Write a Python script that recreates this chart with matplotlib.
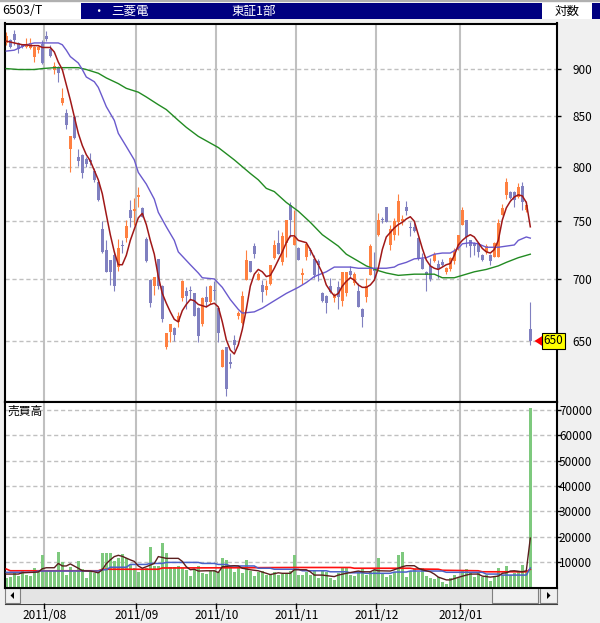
import matplotlib
matplotlib.use('Agg')
import matplotlib.pyplot as plt
import matplotlib.patches as mpatches
from matplotlib.ticker import FixedLocator, NullLocator
import numpy as np

plt.rcParams['font.family'] = ['Noto Sans CJK JP', 'DejaVu Sans']

# ---- daily candles, 2011/07/15 .. 2012/01/30 (6503 三菱電機) ----
opens = [928, 931, 938, 928, 926, 924, 922, 913, 920, 927, 936, 921, 898, 902, 864, 853, 818, 849, 810, 812,
         808, 807, 796, 786, 743, 725, 716, 720, 710, 729, 735, 760, 759, 772, 762, 734, 699, 694, 717, 694,
         645, 657, 660, 665, 684, 690, 691, 688, 676, 663, 685, 681, 691, 676, 630, 645, 634, 651, 670, 664,
         699, 715, 728, 699, 695, 691, 696, 718, 731, 714, 731, 765, 729, 726, 703, 719, 725, 717, 715, 688,
         686, 694, 684, 693, 682, 688, 707, 697, 690, 675, 685, 703, 709, 738, 752, 763, 729, 738, 749, 750,
         763, 745, 745, 735, 717, 706, 711, 715, 713, 714, 706, 708, 715, 727, 747, 751, 733, 731, 731, 720,
         723, 720, 719, 719, 756, 774, 777, 777, 772, 782, 760, 659]
highs = [940, 932, 942, 929, 927, 933, 933, 925, 925, 931, 941, 926, 907, 903, 879, 858, 830, 850, 818, 813,
         810, 814, 799, 788, 750, 733, 716, 724, 734, 733, 751, 769, 771, 781, 763, 736, 700, 702, 717, 695,
         656, 663, 661, 673, 699, 693, 694, 688, 677, 685, 694, 695, 698, 676, 644, 645, 641, 655, 674, 690,
         725, 715, 731, 706, 699, 699, 712, 733, 742, 740, 751, 767, 760, 727, 709, 731, 726, 720, 717, 689,
         687, 701, 688, 698, 706, 706, 711, 706, 697, 676, 701, 730, 723, 757, 754, 763, 747, 753, 775, 756,
         768, 749, 750, 736, 722, 707, 718, 723, 716, 717, 710, 719, 726, 738, 763, 751, 733, 732, 732, 721,
         730, 721, 732, 752, 766, 790, 778, 778, 785, 786, 768, 681]
lows = [926, 922, 926, 917, 922, 922, 921, 907, 917, 905, 930, 913, 894, 886, 862, 837, 795, 827, 801, 790,
        800, 802, 786, 768, 722, 706, 695, 690, 707, 722, 732, 745, 747, 763, 754, 714, 677, 687, 692, 665,
        644, 649, 650, 661, 682, 675, 683, 670, 649, 662, 677, 679, 683, 649, 630, 609, 629, 643, 667, 663,
        699, 706, 718, 699, 681, 687, 695, 717, 721, 712, 719, 736, 729, 716, 696, 716, 720, 701, 698, 681,
        672, 688, 681, 675, 678, 686, 701, 695, 677, 661, 681, 703, 701, 737, 748, 749, 725, 733, 738, 747,
        756, 737, 740, 716, 708, 690, 698, 714, 701, 711, 704, 707, 713, 725, 747, 727, 719, 720, 719, 715,
        721, 712, 719, 719, 756, 770, 770, 763, 771, 760, 758, 647]
closes = [936, 924, 931, 921, 924, 927, 928, 924, 924, 906, 932, 914, 903, 895, 869, 841, 830, 828, 806, 794,
          803, 805, 788, 769, 723, 706, 706, 694, 726, 728, 746, 753, 761, 774, 754, 715, 680, 702, 694, 667,
          656, 663, 655, 670, 698, 686, 690, 670, 654, 684, 681, 694, 690, 656, 643, 614, 632, 647, 672, 686,
          716, 706, 721, 704, 689, 694, 712, 729, 721, 737, 751, 751, 736, 716, 705, 730, 724, 703, 712, 682,
          680, 689, 686, 685, 706, 706, 703, 704, 677, 669, 694, 728, 707, 751, 751, 749, 743, 750, 768, 752,
          759, 744, 741, 717, 708, 703, 700, 721, 708, 712, 709, 718, 723, 738, 760, 736, 728, 728, 723, 716,
          728, 715, 731, 748, 762, 786, 771, 769, 781, 767, 765, 650]
volume = [3600, 4300, 5800, 4500, 6600, 4900, 4700, 7700, 6600, 12800, 6500, 7000, 6400, 14000, 10000, 4900,
          8200, 6200, 10500, 7300, 3750, 6600, 5800, 6200, 13600, 13600, 13600, 10500, 11500, 13200, 11500,
          8900, 7600, 6200, 7000, 7600, 16000, 8500, 8500, 17600, 13600, 8200, 8200, 8500, 7600, 7000, 4500,
          6800, 8500, 5600, 5300, 6600, 7000, 6200, 11600, 10900, 7700, 6100, 7700, 5800, 10900, 6600, 4500,
          6100, 6600, 4900, 5300, 6100, 4900, 5300, 5600, 6600, 12800, 4900, 4900, 6100, 4900, 6600, 3700,
          7000, 6100, 3700, 3000, 5800, 7700, 7700, 4900, 4500, 6600, 7700, 4900, 6100, 7000, 11500, 5300,
          4100, 4800, 6200, 12800, 14100, 4100, 6600, 7300, 6200, 7600, 4500, 3600, 3400, 4100, 2200, 1300,
          3600, 4900, 4100, 7000, 7300, 6200, 4100, 5600, 4300, 4900, 2600, 4100, 7700, 4900, 8500, 4900,
          5800, 6200, 8900, 6600, 71000]

# ---- price moving averages ----
ma_short = [930, 929, 928, 927, 926, 926, 925, 925, 925, 923, 923, 923, 918, 907, 899, 883, 867, 850, 833, 821,
            812, 806, 797, 788, 775, 756, 738, 723, 712, 712, 720, 733, 743, 753, 757, 747, 733, 721, 702, 688,
            680, 673, 667, 665, 674, 679, 683, 682, 679, 678, 677, 679, 680, 677, 665, 651, 643, 640, 647, 659,
            675, 694, 704, 708, 706, 702, 703, 709, 716, 723, 731, 737, 737, 733, 732, 731, 725, 718, 712, 705,
            695, 690, 686, 688, 694, 698, 701, 699, 695, 693, 693, 695, 699, 709, 725, 736, 740, 744, 747, 749,
            752, 754, 750, 738, 726, 716, 711, 709, 708, 710, 712, 713, 720, 729, 733, 736, 738, 736, 731, 726,
            723, 722, 725, 733, 751, 762, 768, 772, 774, 773, 767, 745]
ma_mid_day = [0, 2, 3, 5, 7, 9, 12, 13, 14, 15, 16, 18, 19, 20, 22, 23, 24, 25, 27, 28, 30, 32, 33, 35, 37,
              38, 40, 42, 43, 46, 48, 49, 52, 54, 56, 58, 59, 62, 64, 66, 68, 70, 73, 75, 77, 80, 82, 84, 86,
              88, 90, 93, 95, 97, 98, 100, 102, 105, 107, 109, 111, 113, 114, 116, 118, 120, 122, 123, 125,
              127, 128, 130, 131]
ma_mid_val = [919, 920, 922, 926, 928, 928, 928, 928, 926, 920, 913, 906, 899, 891, 886, 880, 870, 860, 846,
              833, 820, 807, 795, 784, 770, 758, 745, 733, 723, 712, 705, 701, 700, 693, 683, 675, 672, 673,
              676, 680, 684, 688, 693, 697, 702, 706, 710, 710, 710, 709, 709, 709, 709, 710, 712, 714, 717,
              718, 721, 722, 722, 726, 730, 731, 730, 727, 727, 727, 728, 729, 733, 736, 735]
ma_long_day = [0, 3, 7, 9, 12, 18, 20, 23, 25, 28, 30, 33, 35, 38, 40, 43, 45, 48, 53, 57, 61, 63, 65, 67,
               70, 73, 76, 79, 83, 85, 88, 90, 93, 95, 98, 102, 107, 109, 112, 114, 117, 120, 123, 125, 128,
               131]
ma_long_val = [900, 899, 899, 900, 901, 901, 899, 895, 890, 884, 879, 875, 870, 862, 857, 846, 839, 830, 819,
               807, 794, 788, 780, 777, 767, 759, 749, 738, 728, 721, 715, 711, 707, 705, 703, 704, 704, 701,
               701, 703, 706, 708, 711, 714, 718, 721]

# ---- volume moving averages ----
vma_short_day = [0, 3, 4, 8, 9, 10, 12, 13, 14, 15, 16, 18, 19, 21, 23, 24, 25, 26, 27, 28, 29, 31, 32, 33,
                 34, 35, 37, 38, 40, 43, 44, 45, 46, 47, 48, 50, 52, 53, 54, 57, 58, 59, 61, 63, 65, 66, 68,
                 69, 71, 72, 75, 76, 77, 79, 81, 82, 83, 85, 87, 88, 89, 91, 92, 93, 96, 97, 99, 100, 102,
                 103, 104, 106, 107, 108, 110, 111, 112, 113, 115, 116, 118, 119, 120, 121, 123, 124, 125,
                 126, 127, 129, 130, 131]
vma_short_val = [5300, 5300, 5800, 6100, 7400, 7800, 7800, 9500, 8500, 8500, 9300, 7600, 6600, 6500, 5800,
                 7000, 9400, 10900, 12200, 12700, 12300, 10900, 10300, 8500, 7600, 8200, 9500, 12200, 11500,
                 11500, 10300, 8200, 7000, 7200, 6500, 6600, 6600, 5900, 8200, 8600, 8500, 7600, 7000, 6600,
                 5600, 5100, 5800, 5600, 5600, 7000, 7000, 6200, 4900, 4900, 4500, 4300, 4900, 5600, 6200,
                 6500, 6200, 6200, 7000, 6600, 6500, 7000, 8200, 8600, 8600, 7600, 7000, 6200, 5300, 4100,
                 3000, 3000, 3500, 4000, 4900, 5300, 5300, 4500, 4300, 4100, 4500, 5600, 5800, 6500, 6600,
                 6200, 6600, 19500]
vma_mid_day = [0, 7, 8, 23, 24, 25, 26, 30, 31, 35, 36, 39, 40, 48, 49, 52, 53, 55, 56, 62, 63, 66, 67, 73,
               74, 80, 81, 85, 86, 89, 90, 96, 97, 100, 101, 109, 110, 119, 120, 123, 124, 130, 131]
vma_mid_val = [6000, 6000, 6500, 6500, 7000, 7000, 8000, 8000, 9100, 9100, 9500, 9500, 9900, 9900, 9500,
               9500, 9100, 9100, 8500, 8500, 7600, 7600, 7200, 7200, 6600, 6600, 6200, 6200, 5800, 5800,
               5600, 5600, 6100, 6100, 6500, 6500, 6000, 6000, 5300, 5300, 4900, 4900, 7700]
vma_long_day = [0, 1, 23, 24, 38, 39, 60, 72, 86, 87, 101, 102, 108, 109, 118, 119, 130, 131]
vma_long_val = [7300, 6600, 6600, 7200, 7200, 7700, 7800, 7900, 7900, 7600, 7600, 7300, 7200, 6800, 6600,
                6200, 6200, 7200]

month_first_day = [10, 33, 53, 73, 93, 114]
month_labels = ['2011/08', '2011/09', '2011/10', '2011/11', '2011/12', '2012/01']
price_ticks = [650, 700, 750, 800, 850, 900]
vol_ticks = [10000, 20000, 30000, 40000, 50000, 60000, 70000]

# ---- colours ----
C_UP = '#ff8040'
C_DOWN = '#8080c0'
C_MA_S = '#a01818'
C_MA_M = '#6a5acd'
C_MA_L = '#228b22'
C_VOL = '#7ec97e'
C_GRID = '#c0c0c0'
C_NAVY = '#000080'
C_BG = '#f0f0f0'

W, H = 600, 623


def px_rect(x0, y0, x1, y1):
    """pixel box (top-left origin) -> figure fraction rect"""
    return [x0 / W, 1 - y1 / H, (x1 - x0) / W, (y1 - y0) / H]


fig = plt.figure(figsize=(6, 6.23), dpi=100, facecolor=C_BG)

# background layer for header / scrollbar
bg = fig.add_axes([0, 0, 1, 1], zorder=0)
bg.set_xlim(0, W)
bg.set_ylim(H, 0)
bg.axis('off')

bg.add_patch(mpatches.Rectangle((0, 0), W, 2, fc='#b0b0b0', ec='none'))
bg.add_patch(mpatches.Rectangle((0, 3), 81, 16, fc='white', ec='none'))
bg.add_patch(mpatches.Rectangle((81, 3), 461, 16, fc=C_NAVY, ec='none'))
bg.add_patch(mpatches.Rectangle((542, 3), 50, 16, fc='white', ec='none'))
bg.add_patch(mpatches.Rectangle((592, 3), 8, 16, fc=C_NAVY, ec='none'))
bg.text(2, 11, '6503/T', ha='left', va='center', fontsize=9, color='black')
bg.text(98, 11, '・', ha='center', va='center', fontsize=9, color='white')
bg.text(111, 11, '三菱電', ha='left', va='center', fontsize=9, color='white')
bg.text(231, 11, '東証1部', ha='left', va='center', fontsize=9, color='white')
bg.text(567, 11, '対数', ha='center', va='center', fontsize=9, color='black')

# scrollbar
bg.add_patch(mpatches.Rectangle((5, 588), 551.5, 15, fc='#e4e4e4', ec='none'))
for x0, x1 in [(5, 20), (492, 538), (540, 556.5)]:
    bg.add_patch(mpatches.Rectangle((x0, 588), x1 - x0, 15, fc=C_BG, ec='#808080', lw=0.8))
bg.add_patch(mpatches.Polygon([(10.5, 595.5), (14, 592), (14, 599)], closed=True, fc='black', ec='none'))
bg.add_patch(mpatches.Polygon([(550.5, 595.5), (547, 592), (547, 599)], closed=True, fc='black', ec='none'))
bg.plot([5, 556.5], [603.5, 603.5], color='#404040', lw=0.8)

# ---- price panel ----
ax = fig.add_axes(px_rect(5, 23.5, 556.5, 402), zorder=2)
axv = fig.add_axes(px_rect(5, 402, 556.5, 587.5), zorder=2)

days = np.arange(len(closes))
o = np.array(opens, dtype=float)
hi = np.array(highs, dtype=float)
lo = np.array(lows, dtype=float)
c = np.array(closes, dtype=float)
cols = [C_UP if cc >= oo else C_DOWN for oo, cc in zip(o, c)]

ax.vlines(days, lo, hi, colors=cols, lw=0.8, zorder=2)
ax.bar(days, np.maximum(np.abs(c - o), 0.9), bottom=np.minimum(o, c), width=0.82,
       color=cols, lw=0, zorder=2)

ax.plot(ma_long_day, ma_long_val, color=C_MA_L, lw=1.0, zorder=3)
ax.plot(ma_mid_day, ma_mid_val, color=C_MA_M, lw=1.0, zorder=3)
ax.plot(days, ma_short, color=C_MA_S, lw=1.1, zorder=3)

ax.set_yscale('log')
ax.set_ylim(604.3, 949.8)
ax.set_xlim(-0.325, 137.55)
ax.yaxis.set_major_locator(FixedLocator(price_ticks))
ax.yaxis.set_minor_locator(NullLocator())
ax.set_yticklabels([str(t) for t in price_ticks])
ax.set_xticks([])

# ---- volume panel ----
axv.bar(days, volume, width=0.78, color=C_VOL, lw=0, zorder=2)
axv.plot(vma_long_day, vma_long_val, color='#ff1010', lw=1.2, zorder=3)
axv.plot(vma_mid_day, vma_mid_val, color='#4a62c8', lw=1.1, zorder=3)
axv.plot(vma_short_day, vma_short_val, color='#5a1e1e', lw=1.0, zorder=3)
axv.set_xlim(-0.325, 137.55)
axv.set_ylim(0, 73200)
axv.set_yticks(vol_ticks)
axv.set_yticklabels([str(t) for t in vol_ticks])
axv.set_xticks([])
axv.text(0.005, 0.985, '売買高', transform=axv.transAxes, ha='left', va='top', fontsize=8.5)

for a in (ax, axv):
    a.set_facecolor('white')
    a.yaxis.tick_right()
    a.tick_params(axis='y', direction='out', length=2.9, width=1, pad=22.7, labelsize=8.5)
    for lab in a.get_yticklabels():
        lab.set_ha('right')
    a.grid(axis='y', color=C_GRID, ls=(0, (3, 2)), lw=1.0, zorder=0)
    a.vlines(np.array(month_first_day) - 0.5, 0, 1, transform=a.get_xaxis_transform(),
             color=C_GRID, lw=1.5, zorder=1)
    for s in a.spines.values():
        s.set_color('black')
        s.set_linewidth(1.5)
    a.set_axisbelow(True)

# last price marker
last = closes[-1]
ax.annotate('', xy=(0.955, last), xytext=(0.974, last), xycoords=('axes fraction', 'data'),
            textcoords=('axes fraction', 'data'), annotation_clip=False,
            arrowprops=dict(arrowstyle='simple,head_width=0.9,head_length=0.7,tail_width=0.4',
                            color='#ff0000', lw=0), zorder=6)
ax.annotate(str(last), xy=(0.9946, last), xycoords=('axes fraction', 'data'), ha='center', va='center',
            fontsize=8.5, annotation_clip=False, zorder=7,
            bbox=dict(boxstyle='square,pad=0.12', fc='#ffff00', ec='black', lw=0.8))

# month ticks and labels below the scrollbar
mx = np.array(month_first_day) - 0.5
axv.vlines(mx, -0.118, -0.086, transform=axv.get_xaxis_transform(), color='black', lw=1, clip_on=False)
for x, lab in zip(mx, month_labels):
    axv.text(x, -0.152, lab, transform=axv.get_xaxis_transform(), ha='center', va='center',
             fontsize=8.5, clip_on=False)

fig.savefig('out.png', dpi=100, facecolor=C_BG)
